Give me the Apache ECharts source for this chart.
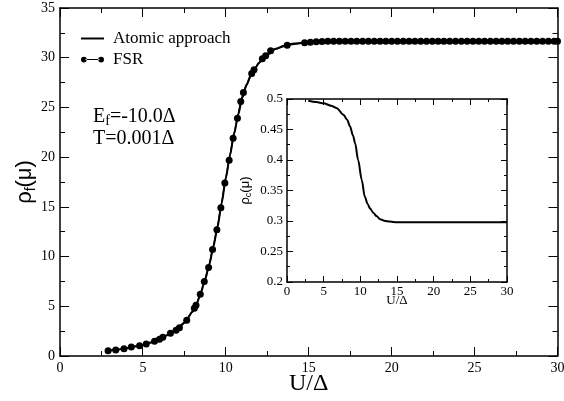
<!DOCTYPE html>
<html>
<head>
<meta charset="utf-8">
<script src="https://cdn.jsdelivr.net/npm/echarts@6/dist/echarts.min.js"></script>
<style>
  html, body { margin: 0; padding: 0; background: #fff; }
  #chart { width: 564px; height: 401px; }
</style>
</head>
<body>
<div id="chart"></div>
<script>
// rho_f(mu) from the FSR calculation (circles)
var fsrU = [2.9, 3.36, 3.86, 4.3, 4.8, 5.2, 5.7, 6.0, 6.2, 6.66, 7.0, 7.2, 7.64, 8.1, 8.2, 8.46, 8.7, 8.96,
  9.2, 9.46, 9.7, 9.94, 10.2, 10.44, 10.7, 10.9, 11.06, 11.56, 11.7, 12.2, 12.4, 12.7, 13.7,
  14.75, 15.1, 15.45, 15.8, 16.15, 16.5, 16.85, 17.2, 17.55, 17.9, 18.25, 18.6, 18.95, 19.3, 19.65,
  20.0, 20.35, 20.7, 21.05, 21.4, 21.75, 22.1, 22.45, 22.8, 23.15, 23.5, 23.85, 24.2, 24.55, 24.9,
  25.25, 25.6, 25.95, 26.3, 26.65, 27.0, 27.35, 27.7, 28.05, 28.4, 28.75, 29.1, 29.45, 29.8, 30.0];
var fsrRho = [0.53, 0.6, 0.74, 0.9, 1.04, 1.2, 1.48, 1.68, 1.88, 2.28, 2.6, 2.85, 3.6, 4.8, 5.1, 6.2, 7.5, 8.9,
  10.7, 12.7, 14.9, 17.4, 19.7, 21.9, 23.9, 25.6, 26.5, 28.4, 28.8, 29.9, 30.2, 30.7, 31.25,
  31.5, 31.55, 31.6, 31.62, 31.65, 31.65, 31.65, 31.65, 31.65, 31.65, 31.65, 31.65, 31.65, 31.65, 31.65,
  31.65, 31.65, 31.65, 31.65, 31.65, 31.65, 31.65, 31.65, 31.65, 31.65, 31.65, 31.65, 31.65, 31.65, 31.65,
  31.65, 31.65, 31.65, 31.65, 31.65, 31.65, 31.65, 31.65, 31.65, 31.65, 31.65, 31.65, 31.65, 31.65, 31.65];

// rho_f(mu) from the atomic approach (solid line)
var atomicU = [2.9, 3.5, 4, 4.5, 5, 5.5, 6, 6.5, 7, 7.5, 8, 8.25, 8.5, 8.75, 9, 9.25, 9.5, 9.75, 10,
  10.25, 10.5, 10.75, 11, 11.25, 11.5, 11.75, 12, 12.5, 13, 13.5, 14, 15, 16, 18, 30];
var atomicRho = [0.53, 0.65, 0.78, 0.95, 1.1, 1.35, 1.68, 2.1, 2.6, 3.35, 4.45, 5.3, 6.4, 7.7, 9.2, 11.0,
  13.0, 15.4, 17.9, 20.2, 22.4, 24.3, 26.0, 27.3, 28.2, 28.9, 29.5, 30.3, 30.9, 31.2, 31.4, 31.55,
  31.62, 31.65, 31.65];

// inset: rho_c(mu)
var insetU = [2.9, 4, 5, 6, 6.8, 7.7, 8.2, 8.6, 9, 9.3, 9.7, 10.2, 10.6, 11, 11.3, 11.8, 12.2, 12.7,
  13.4, 14, 15, 17, 20, 30];
var insetRho = [0.497, 0.495, 0.493, 0.489, 0.485, 0.474, 0.466, 0.455, 0.440, 0.427, 0.400, 0.367,
  0.340, 0.328, 0.321, 0.313, 0.308, 0.303, 0.300, 0.299, 0.298, 0.298, 0.298, 0.298];

// axis ranges
var mainXTicks = { min: 0, max: 30, step: 5 };
var mainYTicks = { min: 0, max: 35, step: 5 };
var insetXTicks = { min: 0, max: 30, step: 5 };
var insetYTicks = { min: 0.2, max: 0.5, step: 0.05 };

// tick positions for the frame marks on the U axes and on the inset
var mainXMajor = [0, 5, 10, 15, 20, 25, 30];
var mainXMinor = [2.5, 7.5, 12.5, 17.5, 22.5, 27.5];
var insetXMajor = [0, 5, 10, 15, 20, 25, 30];
var insetXMinor = [2.5, 7.5, 12.5, 17.5, 22.5, 27.5];
var insetYMajor = [0.2, 0.25, 0.3, 0.35, 0.4, 0.45, 0.5];
var insetYMinor = [0.225, 0.275, 0.325, 0.375, 0.425, 0.475];

function zip(a, b) { return a.map(function (v, i) { return [v, b[i]]; }); }

var SERIF = '"Liberation Serif", "Times New Roman", serif';
var SANS = '"Liberation Sans", Arial, sans-serif';
var BLACK = '#000';

// a framed value axis; nativeTicks chooses whether the axis draws its own inward ticks
function frameAxis(opts) {
  var t = opts.ticks;
  return {
    type: 'value',
    gridIndex: opts.grid,
    position: opts.position,
    z: 20,
    min: t.min, max: t.max, interval: t.step,
    nameMoveOverlap: false,
    axisLine: { show: true, onZero: false, lineStyle: { color: BLACK, width: opts.lw } },
    axisTick: { show: !!opts.nativeTicks, inside: true, length: opts.major, lineStyle: { color: BLACK, width: 1 } },
    minorTick: { show: !!opts.nativeTicks, splitNumber: 2, length: opts.minor, lineStyle: { color: BLACK, width: 1 } },
    splitLine: { show: false },
    minorSplitLine: { show: false },
    axisLabel: {
      show: opts.labels, color: BLACK, fontFamily: SERIF, fontSize: opts.fs, margin: opts.margin
    }
  };
}

var xMain = frameAxis({ grid: 0, position: 'bottom', ticks: mainXTicks, lw: 1.5, labels: true, fs: 14, margin: 5 });
xMain.name = 'U/Δ';
xMain.nameLocation = 'middle';
xMain.nameGap = 16;
xMain.nameTextStyle = { color: BLACK, fontFamily: SERIF, fontSize: 24, verticalAlign: 'top' };
var xMainTop = frameAxis({ grid: 0, position: 'top', ticks: mainXTicks, lw: 1.5, labels: false });

var yMain = frameAxis({ grid: 0, position: 'left', ticks: mainYTicks, lw: 1.5, nativeTicks: true, major: 9, minor: 5, labels: true, fs: 14, margin: 5 });
yMain.name = '{a|ρ}{s|f}{a|(μ)}';
yMain.nameLocation = 'middle';
yMain.nameGap = 22;
yMain.nameRotate = 90;
yMain.nameTextStyle = {
  color: BLACK,
  rich: {
    a: { fontFamily: SANS, fontSize: 22, color: BLACK, lineHeight: 26 },
    s: { fontFamily: SANS, fontSize: 14, color: BLACK, lineHeight: 14, padding: [12, 0, 0, 0], verticalAlign: 'bottom' }
  }
};
var yMainRight = frameAxis({ grid: 0, position: 'right', ticks: mainYTicks, lw: 1.5, nativeTicks: true, major: 9, minor: 5, labels: false });

var xInset = frameAxis({ grid: 1, position: 'bottom', ticks: insetXTicks, lw: 1.5, labels: true, fs: 13, margin: 3 });
xInset.name = 'U/Δ';
xInset.nameLocation = 'middle';
xInset.nameGap = 12;
xInset.nameTextStyle = { color: BLACK, fontFamily: SERIF, fontSize: 13, verticalAlign: 'top' };
var xInsetTop = frameAxis({ grid: 1, position: 'top', ticks: insetXTicks, lw: 1.5, labels: false });

var yInset = frameAxis({ grid: 1, position: 'left', ticks: insetYTicks, lw: 1.5, labels: true, fs: 13, margin: 4 });
yInset.name = '{a|ρ}{s|c}{a|(μ)}';
yInset.nameLocation = 'middle';
yInset.nameGap = 34;
yInset.nameRotate = 90;
yInset.nameTextStyle = {
  color: BLACK,
  rich: {
    a: { fontFamily: SANS, fontSize: 13, color: BLACK, lineHeight: 15 },
    s: { fontFamily: SANS, fontSize: 9, color: BLACK, lineHeight: 9, padding: [7, 0, 0, 0], verticalAlign: 'bottom' }
  }
};
var yInsetRight = frameAxis({ grid: 1, position: 'right', ticks: insetYTicks, lw: 1.5, labels: false });

// legend icons: a plain stroke for the atomic line, two dots joined by a line for FSR
var atomicIcon = 'path://M0,0L40,0L40,3.4L0,3.4Z';
var fsrIcon = 'path://M0,5a5,5 0 1,0 10,0a5,5 0 1,0 -10,0Z M30,5a5,5 0 1,0 10,0a5,5 0 1,0 -10,0Z M8,4L32,4L32,6L8,6Z';

// annotation texts
var textGraphics = [
  {
    id: 'ef', type: 'text', left: 93, top: 102, z: 100,
    style: {
      text: '{n|E}{s|f}{n|=-10.0Δ}',
      rich: {
        n: { fontFamily: SERIF, fontSize: 20, fill: BLACK, lineHeight: 22 },
        s: { fontFamily: SERIF, fontSize: 14, fill: BLACK, lineHeight: 14, padding: [12, 0, 0, 0], verticalAlign: 'bottom' }
      }
    }
  },
  {
    id: 'temp', type: 'text', left: 93, top: 129, z: 100,
    style: { text: 'T=0.001Δ', fontFamily: SERIF, fontSize: 20, fill: BLACK }
  }
];

var option = {
  backgroundColor: '#fff',
  animation: false,
  grid: [
    { left: 60, top: 8, width: 497.5, height: 348, containLabel: false, outerBoundsMode: 'none' },
    { left: 287, top: 99, width: 220, height: 183, containLabel: false, outerBoundsMode: 'none', show: true, backgroundColor: '#fff', borderWidth: 0 }
  ],
  xAxis: [xMain, xMainTop, xInset, xInsetTop],
  yAxis: [yMain, yMainRight, yInset, yInsetRight],
  legend: {
    orient: 'vertical',
    left: 81,
    top: 30,
    padding: 0,
    itemWidth: 23,
    itemHeight: 6,
    itemGap: 4,
    selectedMode: false,
    textStyle: { color: BLACK, fontFamily: SERIF, fontSize: 17, lineHeight: 17, padding: [0, 0, 0, 4] },
    data: [
      { name: 'Atomic approach', icon: atomicIcon, itemStyle: { color: BLACK } },
      { name: 'FSR', icon: fsrIcon, itemStyle: { color: BLACK } }
    ]
  },
  graphic: textGraphics,
  series: [
    {
      name: 'Atomic approach',
      type: 'line',
      xAxisIndex: 0, yAxisIndex: 0,
      data: zip(atomicU, atomicRho),
      smooth: 0.3,
      smoothMonotone: 'x',
      showSymbol: false,
      symbol: 'none',
      lineStyle: { color: BLACK, width: 2 },
      itemStyle: { color: BLACK },
      z: 2
    },
    {
      name: 'FSR',
      type: 'line',
      xAxisIndex: 0, yAxisIndex: 0,
      data: zip(fsrU, fsrRho),
      symbol: 'circle',
      symbolSize: 7,
      lineStyle: { color: BLACK, width: 1.5 },
      itemStyle: { color: BLACK },
      z: 3
    },
    {
      name: 'inset',
      type: 'line',
      xAxisIndex: 2, yAxisIndex: 2,
      data: zip(insetU, insetRho),
      smooth: 0.3,
      smoothMonotone: 'x',
      showSymbol: false,
      symbol: 'none',
      lineStyle: { color: BLACK, width: 2 },
      z: 5
    }
  ]
};

var chart = echarts.init(document.getElementById('chart'), null, { renderer: 'canvas' });
chart.setOption(option);

// Inward frame ticks, placed through the axes' own value-to-pixel conversion.
function crisp(p) { return Math.round(p - 0.5) + 0.5; }
function tickLine(id, x1, y1, x2, y2) {
  return {
    id: id, type: 'line', z: 100, silent: true,
    shape: { x1: x1, y1: y1, x2: x2, y2: y2 },
    style: { stroke: BLACK, lineWidth: 1 }
  };
}
function xFrameTicks(tag, finder, majors, minors, yRange, majorLen, minorLen) {
  var out = [];
  function add(v, len, k) {
    var b = chart.convertToPixel(finder, [v, yRange.min]);
    var t = chart.convertToPixel(finder, [v, yRange.max]);
    var x = crisp(b[0]);
    out.push(tickLine(tag + 'b' + k, x, b[1], x, b[1] - len));
    out.push(tickLine(tag + 't' + k, x, t[1], x, t[1] + len));
  }
  majors.forEach(function (v, i) { add(v, majorLen, 'M' + i); });
  minors.forEach(function (v, i) { add(v, minorLen, 'm' + i); });
  return out;
}
function yFrameTicks(tag, finder, majors, minors, xRange, majorLen, minorLen) {
  var out = [];
  function add(v, len, k) {
    var l = chart.convertToPixel(finder, [xRange.min, v]);
    var r = chart.convertToPixel(finder, [xRange.max, v]);
    var y = crisp(l[1]);
    out.push(tickLine(tag + 'l' + k, l[0], y, l[0] + len, y));
    out.push(tickLine(tag + 'r' + k, r[0], y, r[0] - len, y));
  }
  majors.forEach(function (v, i) { add(v, majorLen, 'M' + i); });
  minors.forEach(function (v, i) { add(v, minorLen, 'm' + i); });
  return out;
}

var mainFinder = { xAxisIndex: 0, yAxisIndex: 0 };
var insetFinder = { xAxisIndex: 2, yAxisIndex: 2 };
var tickGraphics = []
  .concat(xFrameTicks('mx', mainFinder, mainXMajor, mainXMinor, mainYTicks, 9, 5))
  .concat(xFrameTicks('ix', insetFinder, insetXMajor, insetXMinor, insetYTicks, 6, 3))
  .concat(yFrameTicks('iy', insetFinder, insetYMajor, insetYMinor, insetXTicks, 6, 3));

chart.setOption({ graphic: textGraphics.concat(tickGraphics) });
</script>
</body>
</html>
